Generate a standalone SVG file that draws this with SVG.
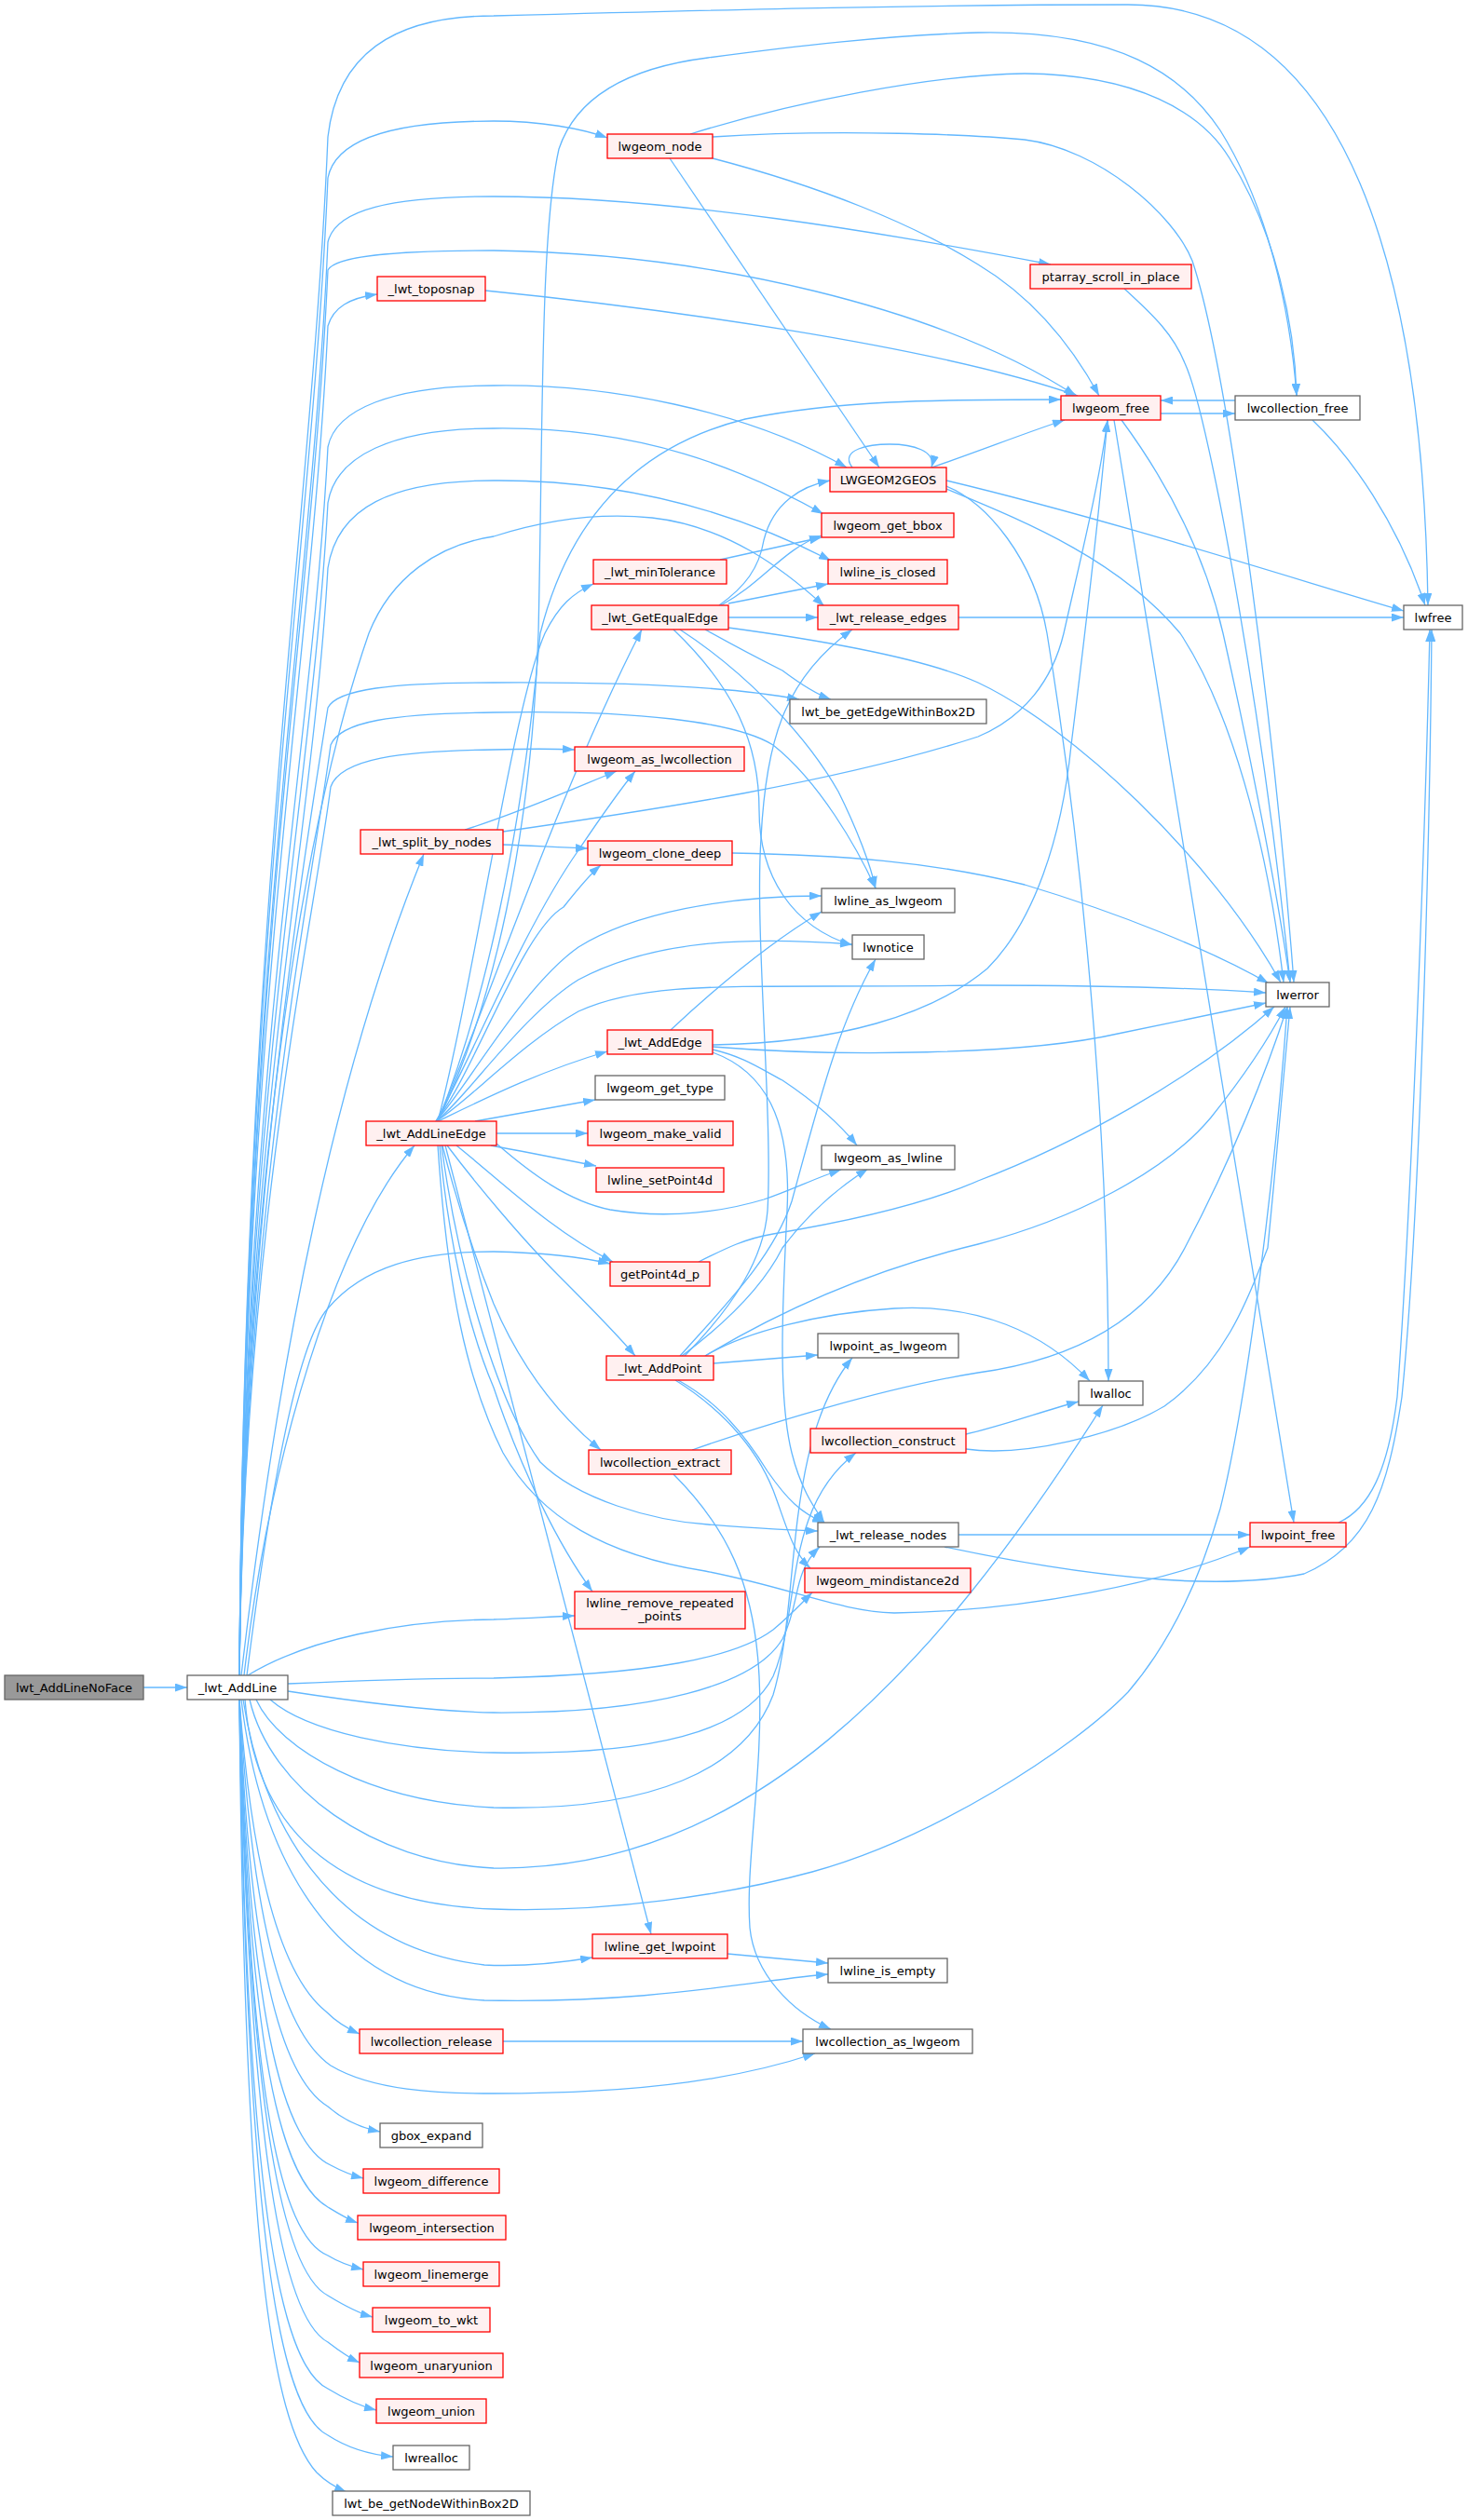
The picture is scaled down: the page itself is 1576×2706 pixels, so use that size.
<svg xmlns="http://www.w3.org/2000/svg" width="1576" height="2706" viewBox="0 0 1576 2706">
<style>
.e{fill:none;stroke:#63B8FF;stroke-width:1.3;marker-end:url(#ah)}
.r rect{fill:#FFF0F0;stroke:#FF0000;stroke-width:1.3}
.g rect{fill:#FFFFFF;stroke:#666666;stroke-width:1.3}
.root rect{fill:#999999;stroke:#666666;stroke-width:1.3}
text{font-family:"DejaVu Sans","Liberation Sans",sans-serif;font-size:13px;text-anchor:middle;fill:#000}
</style>
<defs>
<marker id="ah" viewBox="0 0 13 9" refX="13" refY="4.5" markerWidth="13" markerHeight="9" markerUnits="userSpaceOnUse" orient="auto"><path d="M0,0 L13,4.5 L0,9 z" fill="#63B8FF"/></marker>
</defs>
<rect width="1576" height="2706" fill="#FFFFFF"/>
<g id="edges">
<path class="e" d="M154,1812 L201,1812"/>
<path class="e" d="M257,1799 C262,973 335,560 352,147 C362,60 420,17 530,17 C800,10 1000,5 1211,5 C1450,5 1528,300 1533,650"/>
<path class="e" d="M257,1799 C262,995 335,593 352,191 C360,150 420,130 530,130 C580,130 625,138 652,148"/>
<path class="e" d="M257,1799 C262,1030 335,645 352,260 C360,225 420,211 530,211 C720,211 950,250 1128,284"/>
<path class="e" d="M257,1799 C262,1045 335,667 352,290 C360,275 420,269 530,269 C760,272 1010,330 1155,425"/>
<path class="e" d="M257,1799 C262,1075 335,712 352,350 C358,330 375,320 405,316"/>
<path class="e" d="M257,1799 C262,1140 335,810 352,480 C360,440 420,414 530,414 C650,412 800,440 909,502"/>
<path class="e" d="M257,1799 C262,1170 335,855 352,540 C360,490 420,460 530,460 C690,458 800,505 884,552"/>
<path class="e" d="M257,1799 C262,1205 335,907 352,610 C362,545 420,516 530,516 C690,515 810,560 892,602"/>
<path class="e" d="M257,1799 C262,1300 320,900 396,680 C420,620 470,585 530,576 C580,560 640,550 700,556 C780,565 840,610 885,651"/>
<path class="e" d="M257,1799 C262,1300 330,900 352,760 C362,740 420,733 530,733 C700,732 800,740 858,751"/>
<path class="e" d="M257,1799 C262,1300 335,950 355,800 C365,775 420,766 530,765 C680,762 790,775 830,800 C880,840 920,910 940,954"/>
<path class="e" d="M257,1799 C262,1320 335,1000 355,845 C365,815 430,806 530,805 C565,804 595,804 617,805"/>
<path class="e" d="M259,1799 C300,1450 360,1150 455,917"/>
<path class="e" d="M262,1799 C290,1560 360,1330 445,1230"/>
<path class="e" d="M265,1799 C290,1600 320,1440 352,1405 C390,1360 450,1344 530,1344 C580,1345 625,1350 655,1357"/>
<path class="e" d="M266,1799 C330,1760 430,1740 530,1739 C560,1738 590,1736 617,1735"/>
<path class="e" d="M309,1808 C400,1804 480,1802 530,1802 C700,1798 790,1780 830,1750 C848,1735 860,1722 872,1710"/>
<path class="e" d="M309,1816 C400,1830 470,1838 530,1839 C700,1840 810,1810 840,1760 C860,1720 850,1690 880,1661"/>
<path class="e" d="M290,1825 C330,1860 430,1880 530,1882 C700,1885 800,1860 830,1800 C860,1730 840,1620 919,1560"/>
<path class="e" d="M275,1825 C300,1880 400,1935 530,1941 C700,1945 800,1900 830,1820 C860,1720 840,1550 915,1458"/>
<path class="e" d="M268,1825 C290,1920 400,2000 530,2006 C800,2010 1000,1800 1184,1509"/>
<path class="e" d="M263,1825 C275,1980 380,2045 530,2050 C650,2054 780,2035 872,2010 C1000,1975 1150,1880 1211,1817 C1260,1760 1290,1690 1310,1620 C1340,1500 1370,1250 1382,1081"/>
<path class="e" d="M261,1825 C280,1950 350,2090 520,2110 C560,2112 600,2108 636,2102"/>
<path class="e" d="M259,1825 C280,2000 360,2140 520,2148 C700,2152 820,2125 889,2120"/>
<path class="e" d="M257,1825 C270,2000 300,2120 350,2160 C362,2172 372,2178 386,2184"/>
<path class="e" d="M257,1825 C270,2050 300,2180 355,2218 C400,2245 470,2248 530,2248 C700,2248 800,2230 875,2205"/>
<path class="e" d="M257,1825 C268,2100 300,2230 352,2262 C368,2276 388,2285 408,2289"/>
<path class="e" d="M257,1825 C268,2150 300,2300 355,2325 C368,2332 378,2336 390,2339"/>
<path class="e" d="M257,1825 C268,2200 300,2340 352,2370 C365,2378 373,2383 384,2387"/>
<path class="e" d="M257,1825 C268,2250 300,2400 352,2422 C365,2430 378,2434 390,2437"/>
<path class="e" d="M257,1825 C268,2280 305,2440 352,2465 C370,2476 385,2484 400,2488"/>
<path class="e" d="M257,1825 C268,2320 305,2490 352,2515 C365,2525 375,2532 386,2537"/>
<path class="e" d="M257,1825 C265,2360 300,2540 352,2565 C370,2576 388,2584 404,2588"/>
<path class="e" d="M257,1825 C265,2400 300,2590 352,2615 C375,2630 400,2636 422,2638"/>
<path class="e" d="M257,1825 C262,2400 290,2600 340,2655 C350,2665 360,2671 372,2676"/>
<path class="e" d="M470,1204 C530,1080 570,900 578,680 C583,450 580,250 600,160 C620,100 680,72 760,62 C850,50 950,38 1050,35 C1200,32 1270,80 1310,140 C1360,220 1385,330 1392,425"/>
<path class="e" d="M470,1204 C520,1080 560,900 580,680 C610,560 680,480 800,450 C900,430 1000,429 1139,429"/>
<path class="e" d="M470,1204 C510,1050 550,760 585,680 C600,650 615,637 637,627"/>
<path class="e" d="M470,1204 C530,1060 600,850 689,676"/>
<path class="e" d="M468,1204 C500,1150 560,1000 621,913 C640,885 660,855 682,828"/>
<path class="e" d="M468,1204 C510,1150 560,1000 605,974 C620,955 632,940 645,929"/>
<path class="e" d="M468,1204 C500,1170 560,1060 621,1017 C680,980 780,962 882,962"/>
<path class="e" d="M468,1204 C500,1180 560,1090 621,1052 C700,1010 800,1005 915,1014"/>
<path class="e" d="M468,1204 C500,1185 560,1120 621,1086 C700,1050 800,1062 1050,1058 C1200,1058 1300,1062 1359,1066"/>
<path class="e" d="M470,1204 C520,1180 580,1150 652,1129"/>
<path class="e" d="M510,1204 C560,1195 600,1188 639,1181"/>
<path class="e" d="M533,1217 L631,1217"/>
<path class="e" d="M527,1230 C560,1236 600,1244 640,1252"/>
<path class="e" d="M533,1228 C570,1260 610,1290 655,1299 C720,1310 780,1300 820,1288 C850,1278 875,1265 903,1256"/>
<path class="e" d="M490,1230 C540,1270 590,1320 658,1355"/>
<path class="e" d="M480,1230 C510,1270 560,1330 600,1370 C630,1400 660,1430 682,1456"/>
<path class="e" d="M475,1230 C490,1290 510,1350 530,1400 C560,1470 600,1520 645,1557"/>
<path class="e" d="M472,1230 C480,1320 500,1420 530,1490 C560,1580 600,1660 636,1709"/>
<path class="e" d="M474,1230 C490,1350 530,1500 580,1570 C620,1610 700,1633 760,1637 C800,1640 840,1643 878,1644"/>
<path class="e" d="M470,1230 C480,1380 500,1480 540,1560 C580,1630 650,1670 757,1687 C850,1705 900,1730 960,1732 C1100,1730 1250,1700 1342,1661"/>
<path class="e" d="M478,1230 L699,2077"/>
<path class="e" d="M499,891 C560,872 620,845 662,828"/>
<path class="e" d="M540,907 C570,908 600,910 631,911"/>
<path class="e" d="M540,893 C700,870 900,840 1050,791 C1100,770 1130,730 1142,680 C1160,600 1180,520 1189,451"/>
<path class="e" d="M521,312 C700,330 1000,370 1157,425"/>
<path class="e" d="M741,144 C850,110 1000,80 1100,79 C1220,80 1290,120 1320,170 C1370,250 1390,350 1392,425"/>
<path class="e" d="M765,147 C900,138 1050,145 1100,150 C1180,160 1260,230 1280,280 C1320,400 1370,800 1389,1055"/>
<path class="e" d="M765,170 C880,200 980,240 1050,284 C1110,320 1150,370 1180,425"/>
<path class="e" d="M719,170 L944,502"/>
<path class="e" d="M1207,310 C1240,340 1260,360 1272,390 C1300,450 1360,800 1385,1055"/>
<path class="e" d="M1246,444 L1326,444"/>
<path class="e" d="M1204,451 C1240,500 1290,580 1313,680 C1340,800 1370,950 1385,1055"/>
<path class="e" d="M1196,451 L1389,1635"/>
<path class="e" d="M1326,430 L1246,430"/>
<path class="e" d="M1409,451 C1450,490 1500,560 1530,650"/>
<path class="e" d="M915,502 C900,482 935,477 955,477 C980,477 1005,484 1000,502"/>
<path class="e" d="M1000,502 C1050,485 1100,465 1143,451"/>
<path class="e" d="M1016,516 C1200,560 1400,625 1507,656"/>
<path class="e" d="M1016,522 C1060,540 1110,600 1124,680 C1160,900 1190,1200 1190,1483"/>
<path class="e" d="M1016,525 C1100,560 1200,600 1267,680 C1320,760 1360,900 1378,1055"/>
<path class="e" d="M772,650 C800,630 815,610 820,580 C830,540 860,522 891,516"/>
<path class="e" d="M774,650 C820,625 840,590 882,575"/>
<path class="e" d="M782,648 L889,627"/>
<path class="e" d="M782,663 L878,663"/>
<path class="e" d="M723,676 C790,740 815,800 815,870 C815,940 850,995 915,1015"/>
<path class="e" d="M730,676 C790,715 860,780 900,850 C920,890 935,930 940,954"/>
<path class="e" d="M757,676 C800,700 820,710 840,720 C860,735 875,745 892,751"/>
<path class="e" d="M782,674 C900,690 1000,710 1050,733 C1150,780 1300,920 1375,1055"/>
<path class="e" d="M773,601 L882,577"/>
<path class="e" d="M786,916 C900,918 1000,925 1100,950 C1200,980 1300,1020 1362,1056"/>
<path class="e" d="M720,1106 C780,1050 830,1010 882,979"/>
<path class="e" d="M765,1122 C900,1120 1000,1090 1060,1040 C1110,990 1140,900 1150,800 C1165,680 1180,550 1189,451"/>
<path class="e" d="M765,1124 C900,1135 1100,1133 1200,1110 C1270,1095 1320,1085 1359,1077"/>
<path class="e" d="M765,1127 C800,1135 820,1150 840,1160 C870,1180 900,1205 920,1230"/>
<path class="e" d="M765,1130 C820,1150 850,1200 845,1300 C840,1400 835,1500 850,1560 C860,1600 875,1620 885,1635"/>
<path class="e" d="M730,1456 C780,1400 830,1350 850,1290 C880,1180 900,1100 940,1030"/>
<path class="e" d="M732,1456 C780,1420 820,1380 840,1340 C870,1300 900,1275 932,1255"/>
<path class="e" d="M735,1456 C790,1400 820,1350 824,1300 C830,1200 810,1000 817,900 C822,800 840,730 915,676"/>
<path class="e" d="M757,1456 C850,1400 950,1360 1050,1336 C1150,1310 1250,1260 1300,1200 C1340,1150 1365,1110 1380,1081"/>
<path class="e" d="M766,1464 L878,1455"/>
<path class="e" d="M757,1456 C800,1430 880,1410 960,1405 C1050,1400 1120,1430 1170,1483"/>
<path class="e" d="M728,1482 C760,1500 790,1525 824,1580 C845,1610 860,1625 885,1635"/>
<path class="e" d="M725,1482 C770,1510 810,1550 830,1600 C845,1640 850,1665 870,1684"/>
<path class="e" d="M723,1583 C780,1640 810,1700 815,1800 C820,1900 800,2000 805,2070 C810,2120 850,2160 892,2179"/>
<path class="e" d="M743,1557 C820,1530 950,1490 1050,1474 C1150,1460 1230,1420 1272,1340 C1320,1250 1360,1150 1382,1081"/>
<path class="e" d="M1037,1540 C1080,1530 1120,1515 1158,1505"/>
<path class="e" d="M1037,1556 C1100,1565 1200,1540 1250,1510 C1320,1460 1345,1380 1361,1340 C1370,1250 1378,1150 1385,1081"/>
<path class="e" d="M1029,1648 L1342,1648"/>
<path class="e" d="M1014,1661 C1150,1690 1300,1710 1400,1690 C1470,1660 1490,1600 1505,1500 C1525,1300 1535,900 1537,676"/>
<path class="e" d="M1437,1635 C1470,1620 1490,1580 1500,1500 C1515,1300 1530,900 1535,676"/>
<path class="e" d="M1029,663 L1507,663"/>
<path class="e" d="M750,1355 C780,1340 800,1330 830,1325 C920,1310 1000,1290 1050,1268 C1150,1230 1280,1160 1368,1081"/>
<path class="e" d="M781,2098 L889,2108"/>
<path class="e" d="M540,2192 L862,2192"/>
</g>
<g id="node_lwt_AddLineNoFace" class="root"><rect x="5" y="1799" width="149" height="26"/><text x="79.5" y="1816.5">lwt_AddLineNoFace</text></g>
<g id="node__lwt_AddLine" class="g"><rect x="201" y="1799" width="108" height="26"/><text x="255" y="1816.5">_lwt_AddLine</text></g>
<g id="node__lwt_toposnap" class="r"><rect x="405" y="297" width="116" height="26"/><text x="463" y="314.5">_lwt_toposnap</text></g>
<g id="node__lwt_split_by_nodes" class="r"><rect x="387" y="891" width="153" height="26"/><text x="463.5" y="908.5">_lwt_split_by_nodes</text></g>
<g id="node__lwt_AddLineEdge" class="r"><rect x="393" y="1204" width="140" height="26"/><text x="463" y="1221.5">_lwt_AddLineEdge</text></g>
<g id="node_lwcollection_release" class="r"><rect x="386" y="2179" width="154" height="26"/><text x="463" y="2196.5">lwcollection_release</text></g>
<g id="node_gbox_expand" class="g"><rect x="408" y="2280" width="110" height="26"/><text x="463" y="2297.5">gbox_expand</text></g>
<g id="node_lwgeom_difference" class="r"><rect x="390" y="2329" width="146" height="26"/><text x="463" y="2346.5">lwgeom_difference</text></g>
<g id="node_lwgeom_intersection" class="r"><rect x="384" y="2379" width="159" height="26"/><text x="463.5" y="2396.5">lwgeom_intersection</text></g>
<g id="node_lwgeom_linemerge" class="r"><rect x="390" y="2429" width="146" height="26"/><text x="463" y="2446.5">lwgeom_linemerge</text></g>
<g id="node_lwgeom_to_wkt" class="r"><rect x="400" y="2478" width="126" height="26"/><text x="463" y="2495.5">lwgeom_to_wkt</text></g>
<g id="node_lwgeom_unaryunion" class="r"><rect x="386" y="2527" width="154" height="26"/><text x="463" y="2544.5">lwgeom_unaryunion</text></g>
<g id="node_lwgeom_union" class="r"><rect x="404" y="2576" width="118" height="26"/><text x="463" y="2593.5">lwgeom_union</text></g>
<g id="node_lwrealloc" class="g"><rect x="422" y="2626" width="82" height="26"/><text x="463" y="2643.5">lwrealloc</text></g>
<g id="node_lwt_be_getNodeWithinBox2D" class="g"><rect x="357" y="2675" width="212" height="26"/><text x="463" y="2692.5">lwt_be_getNodeWithinBox2D</text></g>
<g id="node_lwgeom_node" class="r"><rect x="652" y="144" width="113" height="26"/><text x="708.5" y="161.5">lwgeom_node</text></g>
<g id="node__lwt_minTolerance" class="r"><rect x="637" y="601" width="143" height="26"/><text x="708.5" y="618.5">_lwt_minTolerance</text></g>
<g id="node__lwt_GetEqualEdge" class="r"><rect x="635" y="650" width="147" height="26"/><text x="708.5" y="667.5">_lwt_GetEqualEdge</text></g>
<g id="node_lwgeom_as_lwcollection" class="r"><rect x="617" y="802" width="182" height="26"/><text x="708" y="819.5">lwgeom_as_lwcollection</text></g>
<g id="node_lwgeom_clone_deep" class="r"><rect x="631" y="903" width="155" height="26"/><text x="708.5" y="920.5">lwgeom_clone_deep</text></g>
<g id="node__lwt_AddEdge" class="r"><rect x="652" y="1106" width="113" height="26"/><text x="708.5" y="1123.5">_lwt_AddEdge</text></g>
<g id="node_lwgeom_get_type" class="g"><rect x="639" y="1155" width="139" height="26"/><text x="708.5" y="1172.5">lwgeom_get_type</text></g>
<g id="node_lwgeom_make_valid" class="r"><rect x="631" y="1204" width="156" height="26"/><text x="709" y="1221.5">lwgeom_make_valid</text></g>
<g id="node_lwline_setPoint4d" class="r"><rect x="640" y="1254" width="137" height="26"/><text x="708.5" y="1271.5">lwline_setPoint4d</text></g>
<g id="node_getPoint4d_p" class="r"><rect x="655" y="1355" width="107" height="26"/><text x="708.5" y="1372.5">getPoint4d_p</text></g>
<g id="node__lwt_AddPoint" class="r"><rect x="651" y="1456" width="115" height="26"/><text x="708.5" y="1473.5">_lwt_AddPoint</text></g>
<g id="node_lwcollection_extract" class="r"><rect x="632" y="1557" width="153" height="26"/><text x="708.5" y="1574.5">lwcollection_extract</text></g>
<g id="node_lwline_remove_repeated_points" class="r"><rect x="617" y="1709" width="183" height="40"/><text x="708.5" y="1726">lwline_remove_repeated</text><text x="708.5" y="1740">_points</text></g>
<g id="node_lwline_get_lwpoint" class="r"><rect x="636" y="2077" width="145" height="26"/><text x="708.5" y="2094.5">lwline_get_lwpoint</text></g>
<g id="node_LWGEOM2GEOS" class="r"><rect x="891" y="502" width="125" height="26"/><text x="953.5" y="519.5">LWGEOM2GEOS</text></g>
<g id="node_lwgeom_get_bbox" class="r"><rect x="882" y="551" width="142" height="26"/><text x="953" y="568.5">lwgeom_get_bbox</text></g>
<g id="node_lwline_is_closed" class="r"><rect x="889" y="601" width="128" height="26"/><text x="953" y="618.5">lwline_is_closed</text></g>
<g id="node__lwt_release_edges" class="r"><rect x="878" y="650" width="151" height="26"/><text x="953.5" y="667.5">_lwt_release_edges</text></g>
<g id="node_lwt_be_getEdgeWithinBox2D" class="g"><rect x="848" y="751" width="211" height="26"/><text x="953.5" y="768.5">lwt_be_getEdgeWithinBox2D</text></g>
<g id="node_lwline_as_lwgeom" class="g"><rect x="882" y="954" width="143" height="26"/><text x="953.5" y="971.5">lwline_as_lwgeom</text></g>
<g id="node_lwnotice" class="g"><rect x="915" y="1004" width="77" height="26"/><text x="953.5" y="1021.5">lwnotice</text></g>
<g id="node_lwgeom_as_lwline" class="g"><rect x="882" y="1230" width="143" height="26"/><text x="953.5" y="1247.5">lwgeom_as_lwline</text></g>
<g id="node_lwpoint_as_lwgeom" class="g"><rect x="878" y="1432" width="151" height="26"/><text x="953.5" y="1449.5">lwpoint_as_lwgeom</text></g>
<g id="node_lwcollection_construct" class="r"><rect x="870" y="1534" width="167" height="26"/><text x="953.5" y="1551.5">lwcollection_construct</text></g>
<g id="node__lwt_release_nodes" class="g"><rect x="878" y="1635" width="151" height="26"/><text x="953.5" y="1652.5">_lwt_release_nodes</text></g>
<g id="node_lwgeom_mindistance2d" class="r"><rect x="864" y="1684" width="178" height="26"/><text x="953" y="1701.5">lwgeom_mindistance2d</text></g>
<g id="node_lwline_is_empty" class="g"><rect x="889" y="2103" width="128" height="26"/><text x="953" y="2120.5">lwline_is_empty</text></g>
<g id="node_lwcollection_as_lwgeom" class="g"><rect x="862" y="2179" width="182" height="26"/><text x="953" y="2196.5">lwcollection_as_lwgeom</text></g>
<g id="node_ptarray_scroll_in_place" class="r"><rect x="1106" y="284" width="173" height="26"/><text x="1192.5" y="301.5">ptarray_scroll_in_place</text></g>
<g id="node_lwgeom_free" class="r"><rect x="1139" y="425" width="107" height="26"/><text x="1192.5" y="442.5">lwgeom_free</text></g>
<g id="node_lwalloc" class="g"><rect x="1158" y="1483" width="69" height="26"/><text x="1192.5" y="1500.5">lwalloc</text></g>
<g id="node_lwcollection_free" class="g"><rect x="1326" y="425" width="134" height="26"/><text x="1393" y="442.5">lwcollection_free</text></g>
<g id="node_lwerror" class="g"><rect x="1359" y="1055" width="68" height="26"/><text x="1393" y="1072.5">lwerror</text></g>
<g id="node_lwpoint_free" class="r"><rect x="1342" y="1635" width="103" height="26"/><text x="1393.5" y="1652.5">lwpoint_free</text></g>
<g id="node_lwfree" class="g"><rect x="1507" y="650" width="63" height="26"/><text x="1538.5" y="667.5">lwfree</text></g>
</svg>
